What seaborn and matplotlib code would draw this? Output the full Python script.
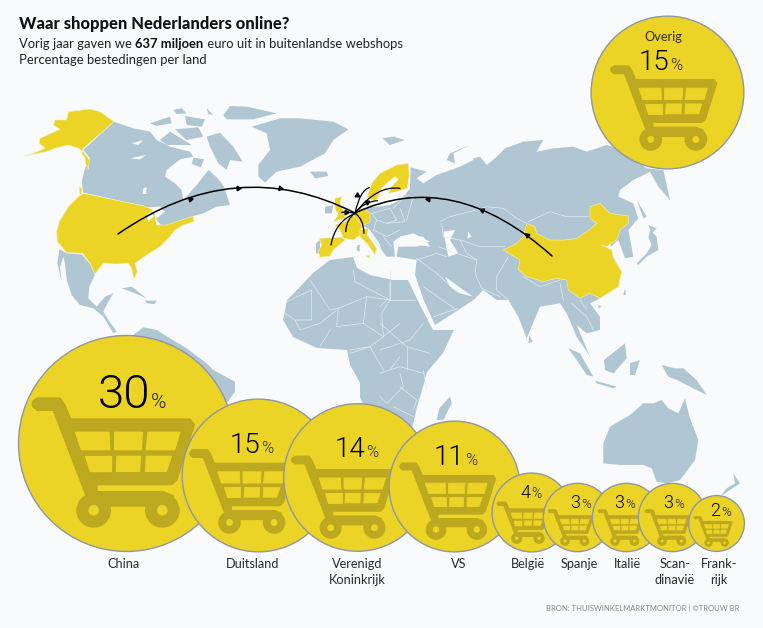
import matplotlib
matplotlib.use("Agg")
import matplotlib.pyplot as plt
from matplotlib.patches import Circle, PathPatch, Polygon
from matplotlib.path import Path
import seaborn as sns

# chart values
countries = ["China", "Duitsland", "Verenigd\nKoninkrijk", "VS", "België", "Spanje", "Italië", "Scan-\ndinavië", "Frank-\nrijk", "Overig"]
shares = [30, 15, 14, 11, 4, 3, 3, 3, 2, 15]

# layout, in pixels of the 763x628 picture
centre_x = [126, 258, 357, 453.5, 531, 577, 626, 672, 716, 666.5]
bottom_y = [551, 551, 551, 551, 551, 551, 551, 551, 551, 168]
cart_left = [33, 190, 292, 400, 497, 548, 598, 645, 694, 611]
cart_bottom = [528, 534, 539, 540, 544, 546, 546, 546, 547, 151]
cart_width = [160, 104, 102, 95, 52, 45, 45, 45, 38, 105]
split_x = [150, 260, 365, 464, 530.5, 580.5, 624.5, 673.5, 720.5, 669]
base_y = [408, 453, 457, 465, 498, 508, 508, 508, 516, 70]
num_size = [34, 20, 20, 20, 13, 13, 13, 13, 13, 20]
pct_size = [15, 12, 12, 12, 10, 9.5, 9.5, 9.5, 9.5, 12]
label_x = [124, 253, 357, 459, 528, 579, 627, 675, 719]

BG = "#f9fafc"
LAND = "#b0c6d2"
YELLOW = "#ecd427"
CART = "#bca91f"
RING = "#8f97a3"
AREA_PER_PCT = 806  # marker area in points^2 for one percent

sns.set_theme(style="white", rc={"figure.facecolor": BG, "axes.facecolor": BG})
plt.rcParams["font.family"] = ["Lato", "DejaVu Sans"]


# outlines were traced on zoomed crops, these bring them back to picture pixels
def L(pts):
    return [(x / 3, 90 + y / 3) for x, y in pts]


def R(pts):
    return [(380 + x / 3, 90 + y / 3) for x, y in pts]


def E(pts):
    return [(280 + x / 3, 150 + y / 3) for x, y in pts]


def S(pts):
    return [(380 + x / 3, 340 + y / 3) for x, y in pts]


grey_land = [
    L([(342, 95), (400, 115), (450, 125), (470, 150), (510, 170), (570, 185), (580, 200), (540, 208), (500, 240), (495, 260), (525, 280), (545, 300), (550, 330), (590, 285), (625, 240), (650, 262), (672, 290), (690, 345), (650, 350), (610, 370), (580, 378), (520, 405), (490, 415), (470, 390), (440, 350), (250, 308), (245, 275), (255, 235), (270, 205), (250, 180)]),
    L([(755, 110), (840, 85), (900, 85), (1000, 95), (1045, 118), (1000, 150), (975, 190), (900, 230), (830, 245), (795, 278), (775, 260), (775, 225), (810, 180), (800, 130)]),
    L([(450, 100), (510, 80), (515, 100), (470, 108)]),
    L([(520, 60), (545, 55), (560, 70), (530, 72)]),
    L([(670, 75), (690, 48), (740, 50), (830, 70), (760, 88), (680, 88)]),
    L([(620, 140), (660, 128), (700, 170), (728, 215), (690, 210), (680, 240), (655, 220), (630, 170)]),
    L([(555, 78), (615, 88), (605, 110), (560, 105)]),
    L([(620, 55), (640, 75), (625, 72)]),
    L([(480, 150), (510, 125), (575, 165), (500, 165)]),
    L([(525, 118), (595, 112), (610, 140), (560, 150)]),
    L([(580, 203), (612, 208), (602, 232), (575, 222)]),
    L([(930, 245), (980, 245), (985, 258), (945, 265)]),
    L([(1150, 145), (1185, 140), (1170, 165)]),
    L([(178, 478), (200, 490), (245, 493), (270, 522), (285, 555), (268, 590), (265, 625), (290, 650), (315, 620), (340, 610), (325, 635), (310, 665), (325, 690), (350, 725), (340, 730), (310, 680), (280, 655), (240, 645), (215, 615), (200, 570), (195, 520), (190, 500), (180, 530), (185, 575), (172, 520)]),
    L([(365, 595), (395, 590), (440, 625), (405, 610)]),
    L([(435, 632), (470, 632), (465, 642), (440, 640)]),
    L([(345, 735), (400, 735), (430, 712), (470, 720), (510, 745), (560, 775), (620, 820), (640, 840), (705, 875), (705, 905), (680, 940), (500, 1000), (300, 1000)]),
    [(283, 320), (287, 300), (300, 287), (313, 273), (330, 260), (353, 257), (357, 268), (370, 275), (393, 280), (408, 280), (420, 305), (433, 330), (454, 330), (443, 353), (427, 372), (423, 387), (417, 407), (413, 425), (400, 450), (370, 450), (372, 425), (360, 397), (360, 383), (350, 365), (347, 350), (317, 348), (293, 337)],
    S([(210, 170), (215, 190), (190, 240), (170, 240), (178, 205)]),
    # Eurasia
    R([(85, 230), (140, 245), (110, 265), (130, 280), (170, 255), (240, 230), (300, 200), (320, 225), (345, 205), (375, 175), (430, 155), (490, 150), (470, 185), (520, 175), (580, 170), (620, 185), (680, 165), (730, 180), (800, 235), (850, 240), (870, 330), (835, 290), (810, 245), (760, 270), (720, 300), (715, 320), (760, 340), (775, 385), (745, 420), (760, 500), (735, 505), (715, 450), (680, 480), (700, 500), (725, 545), (715, 590), (660, 625), (630, 640), (660, 680), (660, 720), (620, 730), (590, 705), (630, 800), (590, 740), (560, 670), (540, 640), (480, 650), (440, 745), (415, 680), (385, 630), (350, 630), (310, 600), (280, 630), (235, 660), (165, 705), (135, 640), (105, 555), (110, 510), (50, 500), (55, 470), (110, 465), (150, 470), (130, 440), (60, 440)])
    + E([(340, 275), (345, 320), (320, 320), (305, 300), (298, 280), (270, 240), (255, 230), (225, 235), (225, 190), (265, 170), (300, 170), (330, 165), (350, 155), (375, 135), (390, 115), (392, 50)]),
    E([(135, 170), (160, 165), (155, 190), (135, 190)]),
    E([(108, 280), (122, 268), (118, 310), (108, 310)]),
    E([(232, 285), (240, 285), (238, 305), (230, 300)]),
    R([(810, 420), (830, 440), (835, 480), (800, 500), (775, 525), (770, 520), (800, 490), (815, 465), (805, 440)]),
    R([(805, 405), (830, 415), (815, 430)]),
    R([(770, 330), (800, 380), (790, 385)]),
    R([(735, 595), (738, 615), (730, 615)]),
    R([(655, 645), (665, 650), (655, 655)]),
    R([(448, 735), (458, 755), (445, 760)]),
    R([(8, 145), (40, 140), (75, 150), (30, 165)]),
    R([(210, 190), (270, 165), (220, 190), (225, 220), (200, 210)]),
    R([(280, 205), (300, 200), (310, 240), (285, 235)]),
    S([(565, 25), (600, 40), (640, 110), (620, 105), (590, 60)]),
    S([(672, 60), (735, 10), (740, 55), (700, 100), (675, 90)]),
    S([(750, 70), (780, 60), (765, 105), (750, 105)]),
    S([(645, 122), (710, 140), (700, 145), (650, 130)]),
    S([(845, 75), (885, 85), (910, 85), (950, 120), (980, 165), (930, 140), (890, 120), (865, 110)]),
    S([(670, 310), (690, 260), (750, 225), (790, 190), (820, 190), (845, 180), (865, 205), (895, 220), (915, 175), (930, 235), (955, 300), (945, 360), (900, 420), (860, 430), (830, 425), (815, 385), (790, 375), (720, 375), (670, 370)]),
    S([(1060, 400), (1080, 430), (1050, 450), (1020, 470), (1040, 445), (1065, 430)]),
]

seas = [
    R([(60, 440), (100, 430), (150, 455), (110, 470), (60, 470)]),
    R([(190, 425), (225, 420), (210, 450), (235, 490), (205, 500), (195, 450)]),
    R([(265, 425), (275, 440), (262, 445)]),
    R([(195, 560), (250, 600), (280, 620), (240, 610), (210, 590)]),
    L([(440, 352), (480, 350), (495, 365), (470, 385), (448, 395), (465, 372)]),
    L([(390, 205), (438, 195), (420, 208)]),
    L([(395, 160), (430, 150), (415, 165)]),
    L([(430, 295), (440, 292), (438, 312), (428, 312)]),
    E([(233, 232), (245, 236), (232, 242), (222, 238)]),
    R([(672, 460), (695, 450), (690, 480), (668, 478)]),
]

yellow_land = [
    L([(342, 95), (300, 65), (270, 57), (205, 65), (200, 90), (165, 90), (160, 105), (180, 118), (120, 145), (118, 160), (135, 175), (100, 190), (72, 198), (140, 185), (165, 175), (205, 165), (235, 175), (250, 185), (262, 200), (268, 210), (265, 238), (258, 225), (255, 205), (245, 190), (250, 175)]),
    L([(250, 310), (432, 348), (460, 360), (440, 375), (445, 395), (465, 375), (470, 405), (500, 405), (520, 398), (580, 378), (582, 395), (550, 405), (525, 420), (510, 440), (480, 470), (440, 495), (405, 520), (412, 545), (402, 568), (395, 535), (385, 520), (350, 522), (310, 520), (285, 552), (270, 520), (248, 490), (200, 488), (172, 455), (170, 425), (178, 395), (205, 350), (235, 320)]),
    L([(238, 290), (245, 295), (245, 315), (238, 310)]),
    R([(440, 400), (465, 410), (470, 430), (510, 450), (555, 450), (590, 445), (620, 425), (650, 400), (630, 385), (630, 350), (660, 340), (690, 370), (745, 378), (745, 400), (720, 420), (710, 450), (680, 470), (665, 465), (695, 480), (700, 505), (725, 545), (715, 590), (660, 625), (630, 610), (600, 625), (565, 600), (560, 570), (530, 565), (490, 575), (440, 560), (415, 540), (420, 510), (370, 480), (410, 460), (430, 440)]),
    E([(262, 140), (275, 100), (300, 70), (330, 55), (350, 45), (385, 40), (388, 75), (382, 115), (350, 125), (325, 130), (335, 110), (355, 88), (345, 80), (320, 100), (305, 115), (290, 150), (275, 150)]),
    E([(165, 145), (185, 140), (180, 160), (195, 190), (195, 205), (160, 215), (175, 195), (165, 175)]),
    E([(220, 190), (250, 175), (270, 190), (270, 215), (245, 230), (225, 225)]),
    E([(195, 215), (220, 195), (245, 225), (240, 255), (220, 270), (190, 265), (180, 240), (165, 225)]),
    E([(240, 240), (265, 235), (262, 255), (290, 295), (285, 315), (265, 285), (240, 260)]),
    E([(258, 318), (270, 315), (268, 325)]),
    E([(118, 265), (185, 262), (195, 270), (160, 300), (150, 318), (120, 322), (115, 305), (125, 285)]),
]

borders = [
    L([(1060, 540), (1065, 575), (1170, 630)]),
    L([(930, 570), (990, 660), (1015, 655), (1100, 620), (1170, 630), (1170, 575)]),
    L([(860, 635), (935, 600), (935, 690), (885, 690), (855, 670)]),
    L([(885, 690), (900, 720), (960, 700), (1010, 660)]),
    L([(1015, 655), (1010, 710), (1090, 700), (1100, 620)]),
    L([(1090, 700), (1150, 740), (1200, 700)]),
    L([(1170, 630), (1145, 670), (1150, 740), (1110, 770), (1050, 780)]),
    L([(990, 720), (960, 770)]),
    L([(1050, 790), (1110, 770), (1150, 840)]),
    R([(30, 540), (30, 630), (105, 630)]),
    R([(0, 650), (20, 630)]),
    R([(0, 700), (80, 770), (150, 790)]),
    R([(80, 770), (80, 840)]),
    R([(130, 700), (90, 750), (0, 780)]),
    R([(30, 840), (60, 800)]),
    S([(0, 100), (60, 80), (130, 100)]),
    S([(60, 100), (70, 140), (20, 190), (0, 170)]),
    S([(130, 90), (140, 150)]),
    S([(60, 140), (110, 180), (100, 210)]),
    S([(40, 200), (100, 230)]),
    R([(180, 395), (210, 380), (270, 365), (320, 350), (370, 355), (410, 385), (440, 400)]),
    R([(445, 395), (510, 365), (560, 380), (625, 380)]),
    R([(185, 400), (190, 440), (240, 450), (300, 470), (375, 470)]),
    R([(240, 450), (260, 490), (290, 510)]),
    R([(175, 470), (230, 490), (290, 510), (285, 550), (305, 595)]),
    R([(110, 510), (170, 490), (200, 500)]),
    R([(110, 505), (170, 550), (235, 610)]),
    R([(305, 595), (360, 620)]),
    R([(385, 500), (350, 560), (350, 600), (385, 630)]),
    R([(430, 560), (480, 590), (540, 570)]),
    R([(540, 580), (550, 630)]),
    R([(575, 640), (620, 680), (640, 720)]),
    R([(600, 630), (620, 660)]),
    R([(160, 680), (235, 655)]),
    R([(130, 590), (230, 660)]),
    E([(275, 190), (330, 175), (350, 210), (320, 220), (290, 210), (275, 190)]),
    E([(290, 210), (280, 240), (320, 260), (360, 240)]),
    E([(320, 220), (375, 215), (360, 175)]),
    E([(270, 250), (310, 310)]),
    E([(310, 260), (335, 290)]),
    E([(340, 175), (380, 135)]),
    E([(400, 140), (380, 210)]),
]

# start, control, end of each flow towards the Netherlands
long_flows = [
    [(118, 234), (235.5, 152.5), (355, 213)],
    [(552, 256), (453, 167), (355, 213)],
]
short_flows = [E(f) for f in [
    [(153, 285), (165, 215), (225, 190)],
    [(197, 245), (200, 205), (225, 190)],
    [(252, 250), (250, 205), (225, 190)],
    [(268, 113), (240, 120), (225, 190)],
    [(360, 115), (290, 105), (225, 190)],
    [(292, 152), (250, 155), (225, 190)],
    [(185, 187), (205, 185), (225, 190)],
]]
heads = [
    (190, 199, -78), (238, 188, -88), (280, 188, -100),
    (527, 235, 50), (482, 210, 65), (428, 199, 85),
    (346, 212, -90), (357, 195, 0), (367, 202, 60),
]

# cart outline, traced on the biggest cart
cart_body = [(112, 177), (180, 177), (193, 195), (212, 240), (570, 240), (582, 255), (530, 420), (515, 433), (290, 433), (290, 458), (490, 458), (520, 470), (440, 497), (330, 497), (262, 470), (162, 210), (112, 210)]
cart_cells = [
    [(228, 278), (328, 278), (330, 330), (245, 330)],
    [(345, 278), (428, 278), (425, 330), (345, 330)],
    [(445, 278), (540, 278), (525, 330), (440, 330)],
    [(255, 350), (333, 350), (333, 395), (270, 395)],
    [(352, 350), (422, 350), (420, 395), (350, 395)],
    [(440, 350), (515, 350), (500, 395), (438, 395)],
]
cart_wheels = [(282, 512), (488, 512)]


def draw_cart(ax, left, bottom, width, z):
    k = width / 480

    def place(pts):
        return [(left + (x - 100) * k, bottom - (565 - y) * k) for x, y in pts]

    ax.add_patch(Polygon(place(cart_body), closed=True, fc=CART, ec=CART, lw=width * 0.012, joinstyle="round", zorder=z))
    ax.add_patch(Circle(place([(112, 193)])[0], 16.5 * k, fc=CART, ec="none", zorder=z))
    for cell in cart_cells:
        ax.add_patch(Polygon(place(cell), closed=True, fc=YELLOW, ec=YELLOW, lw=width * 0.006, joinstyle="round", zorder=z + 0.1))
    for wheel in cart_wheels:
        centre = place([wheel])[0]
        ax.add_patch(Circle(centre, 52 * k, fc=CART, ec="none", zorder=z))
        ax.add_patch(Circle(centre, 16 * k, fc=YELLOW, ec="none", zorder=z + 0.1))


def draw_flow(ax, pts, width):
    path = Path(pts, [Path.MOVETO, Path.CURVE3, Path.CURVE3])
    ax.add_patch(PathPatch(path, fc="none", ec="black", lw=width, capstyle="round", zorder=3))


fig, ax = plt.subplots(figsize=(7.63, 6.28), dpi=100)
fig.subplots_adjust(0, 0, 1, 1)

for pts in grey_land:
    ax.add_patch(Polygon(pts, closed=True, fc=LAND, ec="none", zorder=1))
for pts in seas:
    ax.add_patch(Polygon(pts, closed=True, fc=BG, ec="none", zorder=1.2))
for pts in borders:
    xs, ys = zip(*pts)
    ax.plot(xs, ys, color="#e4ecf0", lw=0.5, zorder=1.4)
for pts in yellow_land:
    ax.add_patch(Polygon(pts, closed=True, fc=YELLOW, ec="#f4f0c8", lw=0.4, zorder=2))

for pts in long_flows:
    draw_flow(ax, pts, 1.1)
for pts in short_flows:
    draw_flow(ax, pts, 0.9)
for hx, hy, angle in heads:
    ax.plot([hx], [hy], marker=(3, 0, angle), ms=3.8, color="black", zorder=3)

# bubbles, their area follows the share
for i, (share, cx, bottom) in enumerate(zip(shares, centre_x, bottom_y)):
    z = 10 + i
    size = share * AREA_PER_PCT
    radius = (size ** 0.5) / 0.72 / 2
    sns.scatterplot(x=[cx], y=[bottom - radius], s=size, color=YELLOW, edgecolor=RING, linewidth=1.0, legend=False, ax=ax, zorder=z, clip_on=False)
    draw_cart(ax, cart_left[i], cart_bottom[i], cart_width[i], z + 0.2)
    ax.text(split_x[i], base_y[i], str(share), ha="right", va="baseline", family="Roboto", fontsize=num_size[i], color="black", fontweight=300, zorder=z + 0.5)
    ax.text(split_x[i] + 1, base_y[i], "%", ha="left", va="baseline", family="Roboto", fontsize=pct_size[i], color="#222222", fontweight=300, zorder=z + 0.5)

for name, x in zip(countries, label_x):
    for n, line in enumerate(name.split("\n")):
        ax.text(x, 564 + 16 * n, line, ha="center", va="center", fontsize=9.2, color="#2b2b2b")

ax.text(663, 37, "Overig", ha="center", va="center", fontsize=9.2, color="#2b2b2b", zorder=25)

ax.text(19, 24, "Waar shoppen Nederlanders online?", ha="left", va="center", fontsize=11.9, fontweight="black", color="#111111")
t1 = ax.text(19, 44, "Vorig jaar gaven we ", ha="left", va="center", fontsize=9.4, color="#222222")
t2 = ax.annotate("637 miljoen", xy=(1, 0.5), xycoords=t1, ha="left", va="center", fontsize=9.4, fontweight="bold", color="#111111")
ax.annotate(" euro uit in buitenlandse webshops", xy=(1, 0.5), xycoords=t2, ha="left", va="center", fontsize=9.4, color="#222222")
ax.text(19, 60, "Percentage bestedingen per land", ha="left", va="center", fontsize=9.4, color="#222222")
ax.text(739, 608, "BRON: THUISWINKELMARKTMONITOR | ©TROUW BR", ha="right", va="center", fontsize=5.5, color="#85898f")

ax.set_xlim(0, 763)
ax.set_ylim(628, 0)
ax.axis("off")
fig.savefig("out.png", dpi=100, facecolor=BG)
